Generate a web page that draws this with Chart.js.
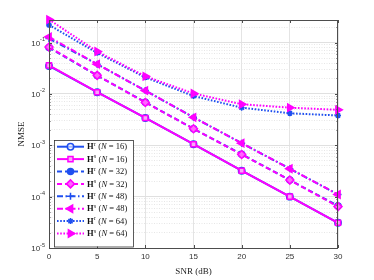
<!DOCTYPE html>
<html>
<head>
<meta charset="utf-8">
<script src="https://cdn.jsdelivr.net/npm/chart.js@4/dist/chart.umd.min.js"></script>
<style>
  html, body { margin: 0; padding: 0; background: #fff; }
  canvas { display: block; }
</style>
</head>
<body>
<canvas id="nmseChart" width="374" height="280"></canvas>
<script>
// SNR points (dB)
const snr = [0, 5, 10, 15, 20, 25, 30];

// NMSE values
const hr16 = [0.035, 0.0108, 0.0034, 0.00105, 0.00032, 0.0001, 0.000031];
const hs16 = [0.036, 0.0108, 0.0034, 0.00105, 0.00032, 0.0001, 0.000031];
const hr32 = [0.08, 0.0228, 0.0069, 0.0021, 0.00067, 0.00021, 0.000066];
const hs32 = [0.082, 0.023, 0.0068, 0.0021, 0.00066, 0.00021, 0.000064];
const hr48 = [0.12, 0.038, 0.0116, 0.0035, 0.0011, 0.00035, 0.00011];
const hs48 = [0.129, 0.038, 0.0116, 0.0035, 0.0011, 0.00035, 0.00011];
const hr64 = [0.22, 0.063, 0.021, 0.0091, 0.0054, 0.0042, 0.0038];
const hs64 = [0.28, 0.067, 0.022, 0.0102, 0.0063, 0.0054, 0.0049];

const xTicks = [0, 5, 10, 15, 20, 25, 30];
const yExps = [-5, -4, -3, -2, -1];
const yMin = 1e-5, yMax = 0.275;

const BLUE = '#1f4ff0';
const MAG = '#ff00ff';

// legend pieces: matrix superscript, N value
const legendSup = ['r', 's', 'r', 's', 'r', 's', 'r', 's'];
const legendN = ['16', '16', '32', '32', '48', '48', '64', '64'];

function mk(data, color, dash, style, radius, fill, rot, order) {
  return {
    data: data.map((v, i) => ({ x: snr[i], y: v })),
    borderColor: color,
    borderWidth: 2,
    borderDash: dash,
    pointStyle: style,
    pointRadius: radius,
    pointRotation: rot || 0,
    pointBorderColor: color,
    pointBackgroundColor: fill,
    pointBorderWidth: 1.5,
    clip: false,
    order: order
  };
}

const DASH = [5, 3];
const DASHDOT = [6, 2.5, 1.5, 2.5];
const DOT = [1.6, 1.6];

const datasets = [
  mk(hr16, BLUE, [], 'circle', 3.2, 'rgba(255,255,255,0.6)', 0, 1),
  mk(hs16, MAG, [], 'rect', 3.6, '#f7a8f7', 0, 0),
  mk(hr32, BLUE, DASH, 'circle', 3, BLUE, 0, 1),
  mk(hs32, MAG, DASH, 'rectRot', 4, '#ff66ff', 0, 0),
  mk(hr48, BLUE, DASHDOT, 'cross', 3.5, BLUE, 0, 1),
  mk(hs48, MAG, DASHDOT, 'triangle', 4.2, MAG, -90, 0),
  mk(hr64, BLUE, DOT, 'star', 3, BLUE, 0, 1),
  mk(hs64, MAG, DOT, 'triangle', 4.2, MAG, 90, 0)
];

const frameAndLegend = {
  id: 'frameAndLegend',
  afterDraw(chart) {
    const c = chart.ctx;
    const a = chart.chartArea;
    const xs = chart.scales.x, ys = chart.scales.y;
    c.save();
    // frame
    c.strokeStyle = '#4d4d4d';
    c.lineWidth = 1;
    c.setLineDash([]);
    c.strokeRect(a.left + 0.5, a.top + 0.5, a.right - a.left - 1, a.bottom - a.top);
    // inward tick marks
    c.beginPath();
    xTicks.forEach(v => {
      const px = Math.round(xs.getPixelForValue(v)) + 0.5;
      c.moveTo(px, a.bottom); c.lineTo(px, a.bottom - 3);
      c.moveTo(px, a.top); c.lineTo(px, a.top + 3);
    });
    ys.ticks.forEach(t => {
      const py = Math.round(ys.getPixelForValue(t.value)) + 0.5;
      const len = t.major ? 3 : 1.5;
      c.moveTo(a.left, py); c.lineTo(a.left + len, py);
      c.moveTo(a.right, py); c.lineTo(a.right - len, py);
    });
    c.stroke();
    // y tick labels 10^n
    c.fillStyle = '#333';
    c.textBaseline = 'middle';
    yExps.forEach(e => {
      const py = ys.getPixelForValue(Math.pow(10, e));
      c.font = '5.5px "Liberation Sans"';
      const sup = '-' + (-e);
      const sw = c.measureText(sup).width;
      c.textAlign = 'right';
      c.fillText(sup, a.left - 4, py - 3);
      c.font = '8px "Liberation Sans"';
      c.fillText('10', a.left - 4 - sw, py + 1);
    });
    // legend box
    const lx = 54, ly = 140, lw = 79, lh = 106.5;
    c.fillStyle = '#fff';
    c.fillRect(lx, ly, lw, lh);
    c.strokeStyle = '#333';
    c.lineWidth = 0.8;
    c.strokeRect(lx + 0.5, ly + 0.5, lw, lh);
    chart.data.datasets.forEach((ds, i) => {
      const y = 146.7 + i * 12.4;
      c.strokeStyle = ds.borderColor;
      c.lineWidth = ds.borderWidth;
      c.setLineDash(ds.borderDash);
      c.beginPath();
      c.moveTo(57, y); c.lineTo(84, y);
      c.stroke();
      c.setLineDash([]);
      c.fillStyle = ds.pointBackgroundColor;
      c.strokeStyle = ds.pointBorderColor;
      c.lineWidth = ds.pointBorderWidth;
      Chart.helpers.drawPoint(c, {
        pointStyle: ds.pointStyle,
        rotation: ds.pointRotation,
        radius: ds.pointRadius,
        borderWidth: ds.pointBorderWidth
      }, 70.5, y);
      // label: bold H, superscript, (N = ..)
      c.fillStyle = '#111';
      c.textAlign = 'left';
      c.textBaseline = 'middle';
      let tx = 87;
      c.font = 'bold 8.5px "Liberation Serif"';
      c.fillText('H', tx, y + 0.5);
      tx += c.measureText('H').width;
      c.font = '5.5px "Liberation Serif"';
      c.fillText(legendSup[i], tx + 0.3, y - 2.2);
      tx += c.measureText(legendSup[i]).width + 2.8;
      c.font = '8.5px "Liberation Serif"';
      c.fillText('(', tx, y + 0.5);
      tx += c.measureText('(').width;
      c.font = 'italic 8.5px "Liberation Serif"';
      c.fillText('N', tx, y + 0.5);
      tx += c.measureText('N').width;
      c.font = '8.5px "Liberation Serif"';
      c.fillText(' = ' + legendN[i] + ')', tx, y + 0.5);
    });
    c.restore();
  }
};

new Chart(document.getElementById('nmseChart'), {
  type: 'line',
  data: { datasets: datasets },
  options: {
    responsive: false,
    animation: false,
    devicePixelRatio: 1,
    layout: { padding: { left: 0, right: 36, top: 20, bottom: 0 } },
    plugins: { legend: { display: false }, tooltip: { enabled: false } },
    scales: {
      x: {
        type: 'linear',
        min: 0,
        max: 30,
        afterBuildTicks: (s) => { s.ticks = xTicks.map(v => ({ value: v })); },
        afterFit: (s) => { s.height = 32; },
        grid: { color: '#e4e4e4', lineWidth: 1, drawTicks: false },
        border: { display: false },
        ticks: { color: '#333', font: { family: 'Liberation Sans', size: 8 }, padding: 4, maxRotation: 0 },
        title: {
          display: true, text: 'SNR (dB)', color: '#222',
          font: { family: 'Liberation Serif', size: 9 }, padding: { top: 0, bottom: 3 }
        }
      },
      y: {
        type: 'logarithmic',
        min: yMin,
        max: yMax,
        afterBuildTicks: (s) => {
          const t = [];
          yExps.forEach(e => {
            for (let m = 1; m <= 9; m++) {
              const v = m * Math.pow(10, e);
              if (v <= yMax) t.push({ value: v, major: m === 1 });
            }
          });
          s.ticks = t;
        },
        afterFit: (s) => { s.width = 49; },
        grid: {
          drawTicks: false,
          color: (ctx) => (ctx.tick && ctx.tick.major) ? '#e0e0e0' : '#e6e6e6',
          lineWidth: 1
        },
        border: {
          display: false,
          dash: (ctx) => (ctx.tick && !ctx.tick.major) ? [1, 1.5] : []
        },
        ticks: { display: false },
        title: {
          display: true, text: 'NMSE', color: '#222',
          font: { family: 'Liberation Serif', size: 9 }, padding: { top: 16, bottom: 0 }
        }
      }
    }
  },
  plugins: [frameAndLegend]
});
</script>
</body>
</html>
